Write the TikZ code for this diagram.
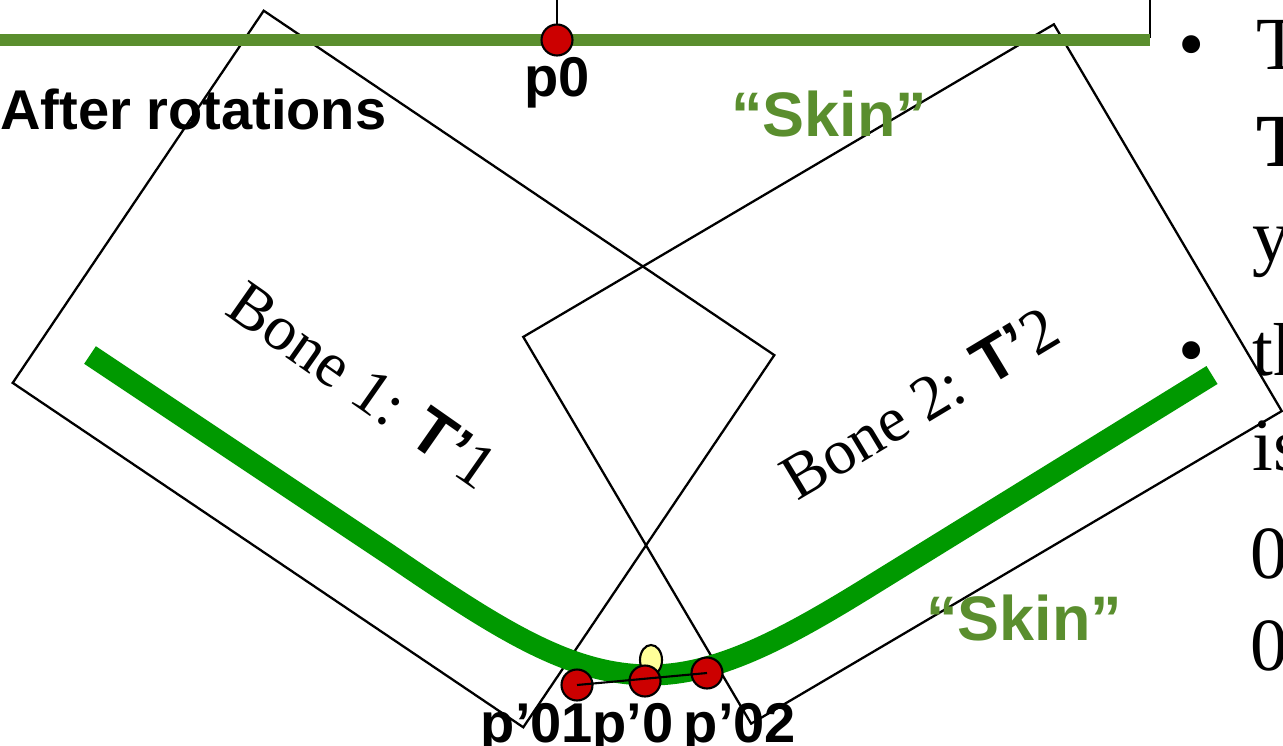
\documentclass[tikz,border=0pt]{standalone}
\usepackage{fontspec}
\setmainfont{Liberation Serif}
\newfontfamily\labelsans{Liberation Sans}
\usepackage{tikz}
\usetikzlibrary{positioning,shapes.geometric}
\definecolor{skinolive}{HTML}{5A8E2E}
\definecolor{skingreen}{HTML}{009900}
\definecolor{jointred}{HTML}{CC0000}
\definecolor{pivotyellow}{HTML}{FFFF99}
\newcommand{\ptfont}{\labelsans\bfseries\fontsize{31.9}{36}\selectfont}
\newcommand{\skinfont}{\labelsans\bfseries\fontsize{35.8}{40}\selectfont}
\newcommand{\bonefont}{\fontsize{36.4}{40}\selectfont}
\newcommand{\slidefont}{\fontsize{42.7}{48}\selectfont}

\begin{document}
\begin{tikzpicture}[
    x=0.02cm, y=-0.02cm,
    bone/.style={draw, line width=1.3pt, minimum width=12.32cm, minimum height=8.98cm, inner sep=0pt, rotate=#1},
    joint/.style={circle, draw, line width=1.2pt, fill=jointred, minimum size=0.62cm, inner sep=0pt},
    ptlabel/.style={font=\ptfont, inner sep=0pt, anchor=base},
    skinlabel/.style={font=\skinfont, text=skinolive, inner sep=0pt, anchor=base},
    bonelabel/.style={font=\bonefont, inner sep=0pt, rotate=#1},
    slide/.style={font=\slidefont, inner sep=0pt, anchor=base west},
    skin/.style={line width=#1, line join=round}
]
    \useasboundingbox (0,0) rectangle (1283,746);
    \clip (0,0) rectangle (1283,746);

    % Bones after rotations
    \node[bone=-34] (bone1) at (393.5,369) {};
    \node[bone=30.5] (bone2) at (902.5,374) {};

    % Bone at rest (top)
    \coordinate (p0pos) at (557,40);
    \draw[line width=1.3pt] (p0pos) |- (1150,-10) -- (1150,38);
    \draw[skin=6.4pt, skinolive] (0,40) -- (1150,40);

    % Skin after rotations
    \draw[skin=12pt, skingreen] (90,355) -- (390,555)
        .. controls (500,630) and (570,675) .. (650,675)
        .. controls (720,675) and (790,636) .. (880,580) -- (1212,375);

    % Labels
    \node[font=\ptfont, inner sep=0pt, anchor=base west] (title) at (0,130) {After rotations};
    \node[skinlabel] (skin1) at (829,137) {“Skin”};
    \node[skinlabel] (skin2) at (1024,640) {“Skin”};
    \node[bonelabel=-35] (b1text) at (363,385) {Bone 1: {\labelsans\bfseries T’}1};
    \node[bonelabel=31] (b2text) at (920,403) {Bone 2: {\labelsans\bfseries T’}2};

    % Vertices
    \node[joint] (p0) at (p0pos) {};
    \node[ptlabel] (p0lbl) at (557,97) {p0};
    \node[ellipse, draw, line width=1.2pt, fill=pivotyellow, minimum width=0.44cm, minimum height=0.6cm, inner sep=0pt] (pivot) at (651,660) {};
    \node[joint] (pa) at (577,685) {};
    \node[joint] (pb) at (645,681) {};
    \node[joint] (pc) at (707,673) {};
    \draw[line width=1.2pt] (pa.center) -- (pc.center);
    \node[ptlabel] (palbl) at (537,742) {p’01};
    \node[ptlabel] (pblbl) at (633,742) {p’0};
    \node[ptlabel] (pclbl) at (740,742) {p’02};

    % Slide text (cut off)
    \node[font=\slidefont, inner sep=0pt, anchor=base] (bul1) at (1192,70) {\textbullet};
    \node[font=\slidefont, inner sep=0pt, anchor=base] (bul2) at (1192,375) {\textbullet};
    \node[slide] (l1) at (1256,70) {T};
    \node[slide] (l2) at (1256,167) {\textbf{T}};
    \node[slide] (l3) at (1252,261) {y};
    \node[slide] (l4) at (1252,375) {th};
    \node[slide] (l5) at (1252,470) {is};
    \node[slide] (l6) at (1250,578) {0};
    \node[slide] (l7) at (1250,670) {0};
\end{tikzpicture}
\end{document}
